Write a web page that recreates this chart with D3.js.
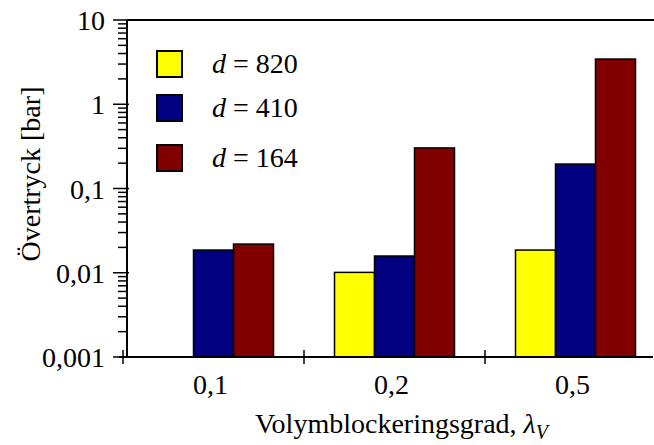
<!DOCTYPE html>
<html><head><meta charset="utf-8">
<script src="https://cdn.jsdelivr.net/npm/d3@7"></script>
</head><body style="margin:0">
<svg id="c" width="654" height="445"></svg>
<script>
const categories = ["0,1", "0,2", "0,5"];
const seriesD = ["820", "410", "164"];
const seriesColors = ["#ffff00", "#000080", "#800000"];
const values820 = [null, 0.0101, 0.0186];
const values410 = [0.0186, 0.0158, 0.195];
const values164 = [0.0219, 0.303, 3.44];
const yTicks = [10, 1, 0.1, 0.01, 0.001];
const yTickLabels = ["10", "1", "0,1", "0,01", "0,001"];
const yTitle = "Övertryck [bar]";
const xTitle = "Volymblockeringsgrad, ";

const FONT = "'Liberation Serif', 'Times New Roman', Tinos, serif";
const series = [values820, values410, values164];
const svg = d3.select("#c");

const x = d3.scaleBand().domain(categories).range([123, 666]).padding(0);
const sub = d3.scaleBand().domain(d3.range(3)).range([0, 120]);
const y = d3.scaleLog().domain([0.001, 10]).range([357, 20]);
const axisX = 127;

function txt(size) {
  return svg.append("text").attr("font-size", size).style("font-family", FONT);
}

// bars
series.forEach((vals, si) => {
  vals.forEach((v, i) => {
    if (v == null) return;
    svg.append("rect")
      .attr("x", x(categories[i]) + (x.bandwidth() - 120) / 2 + sub(si))
      .attr("y", y(v))
      .attr("width", sub.bandwidth())
      .attr("height", y(0.001) - y(v))
      .attr("fill", seriesColors[si])
      .attr("stroke", "#000").attr("stroke-width", 1.5);
  });
});

// y axis
const minor = [];
for (let e = -3; e < 1; e++) for (let m = 2; m <= 9; m++) minor.push(m * Math.pow(10, e));
minor.forEach(d => svg.append("line")
  .attr("x1", axisX - 9).attr("x2", axisX).attr("y1", y(d)).attr("y2", y(d))
  .attr("stroke", "#000").attr("stroke-width", 1.5));
yTicks.forEach((d, i) => {
  svg.append("line").attr("x1", axisX - 14).attr("x2", axisX + 2).attr("y1", y(d)).attr("y2", y(d))
    .attr("stroke", "#000").attr("stroke-width", 1.5);
  txt(28).attr("x", 105).attr("y", y(d) + 10).attr("text-anchor", "end").text(yTickLabels[i]);
});
svg.append("line").attr("x1", axisX).attr("x2", axisX).attr("y1", y(10)).attr("y2", y(0.001))
  .attr("stroke", "#000").attr("stroke-width", 2);

// top border
svg.append("line").attr("x1", axisX).attr("x2", 654).attr("y1", y(10)).attr("y2", y(10))
  .attr("stroke", "#000").attr("stroke-width", 2);

// x axis
svg.append("line").attr("x1", 119).attr("x2", 653).attr("y1", y(0.001)).attr("y2", y(0.001))
  .attr("stroke", "#000").attr("stroke-width", 2);
categories.forEach(c => {
  svg.append("line").attr("x1", x(c)).attr("x2", x(c)).attr("y1", y(0.001) - 7).attr("y2", y(0.001) + 7)
    .attr("stroke", "#000").attr("stroke-width", 1.5);
  txt(28).attr("x", x(c) + x.bandwidth() / 2 - 3).attr("y", 394).attr("text-anchor", "middle").text(c);
});

// titles
const xt = txt(28).attr("x", 255).attr("y", 433);
xt.append("tspan").text(xTitle);
xt.append("tspan").attr("font-style", "italic").text("λ");
xt.append("tspan").attr("font-style", "italic").attr("font-size", 20).attr("dy", 6).text("V");

txt(28).attr("transform", "translate(40,174) rotate(-90)").attr("text-anchor", "middle").text(yTitle);

// legend
const legY = [51, 95, 145];
seriesD.forEach((n, i) => {
  svg.append("rect").attr("x", 157).attr("y", legY[i]).attr("width", 25).attr("height", 26)
    .attr("fill", seriesColors[i]).attr("stroke", "#000").attr("stroke-width", 2);
  const t = txt(28).attr("x", 212).attr("y", legY[i] + 22);
  t.append("tspan").attr("font-style", "italic").text("d");
  t.append("tspan").text(" = " + n);
});
</script>
</body></html>
